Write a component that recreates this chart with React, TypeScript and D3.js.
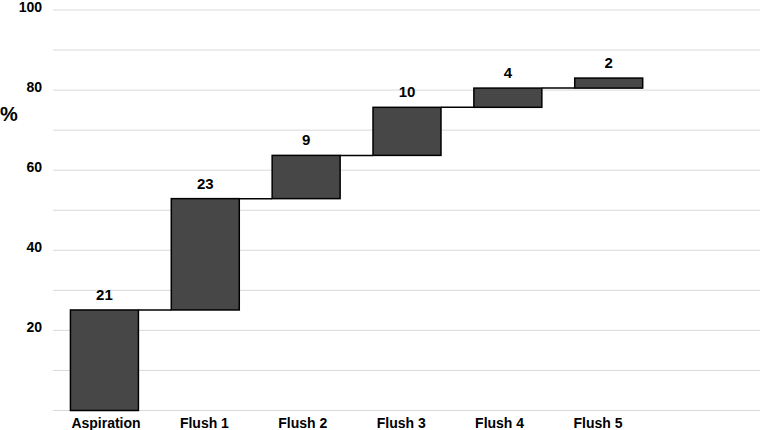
import React from "react";
import * as d3 from "d3";

const categories = ["Aspiration", "Flush 1", "Flush 2", "Flush 3", "Flush 4", "Flush 5"];
const bandSlots = ["Aspiration", "Flush 1", "Flush 2", "Flush 3", "Flush 4", "Flush 5", ""];
// step heights (cumulative %)
const steps = [25.1, 27.8, 10.8, 12.0, 4.8, 2.5];
const valueLabels = ["21", "23", "9", "10", "4", "2"];
const tickLabels = [20, 40, 60, 80, 100];
const gridValues = [10, 20, 30, 40, 50, 60, 70, 80, 90, 100];

export default function App() {
  const W = 760, H = 430;
  const left = 54, right = 760;
  const y = d3.scaleLinear().domain([0, 100]).range([410.5, 10]);
  const x = d3.scaleBand().domain(bandSlots).range([left, right]).paddingInner(0.326).paddingOuter(0.163);
  const lx = d3.scalePoint().domain(categories).range([106, 598]);

  let acc = 0;
  const bars = steps.map((s, i) => {
    const start = acc;
    acc += s;
    return { cat: categories[i], start, end: acc, label: valueLabels[i] };
  });

  const font = "Arial, 'Liberation Sans', sans-serif";

  return (
    <svg width={W} height={H} style={{ position: "absolute", left: 0, top: 0 }} fontFamily={font}>
      <rect x={0} y={0} width={W} height={H} fill="#fff" />
      {gridValues.map((g) => (
        <line key={g} x1={left - 1} x2={right} y1={y(g)} y2={y(g)} stroke="#d9d9d9" strokeWidth={1} />
      ))}
      <line x1={left - 1} x2={right} y1={y(0)} y2={y(0)} stroke="#d9d9d9" strokeWidth={1} />
      {tickLabels.map((t) => (
        <text key={t} x={42} y={y(t) + 2} textAnchor="end" fontSize={14} fontWeight="bold" fill="#000">
          {t}
        </text>
      ))}
      <text x={0} y={121} fontSize={20} fontWeight="bold" fill="#000">%</text>
      {bars.map((b, i) => {
        const bx = x(b.cat)!;
        const bw = x.bandwidth();
        const next = bars[i + 1];
        return (
          <g key={b.cat}>
            {next && (
              <line x1={bx + bw} x2={x(next.cat)!} y1={y(b.end)} y2={y(b.end)} stroke="#000" strokeWidth={1.5} />
            )}
            <rect x={bx} y={y(b.end)} width={bw} height={y(b.start) - y(b.end)} fill="#474747" stroke="#000" strokeWidth={1.5} />
            <text x={bx + bw / 2} y={y(b.end) - 10} textAnchor="middle" fontSize={15} fontWeight="bold" fill="#000">
              {b.label}
            </text>
          </g>
        );
      })}
      {categories.map((c) => (
        <text key={c} x={lx(c)} y={427.5} textAnchor="middle" fontSize={14} fontWeight="bold" fill="#000">
          {c}
        </text>
      ))}
    </svg>
  );
}
